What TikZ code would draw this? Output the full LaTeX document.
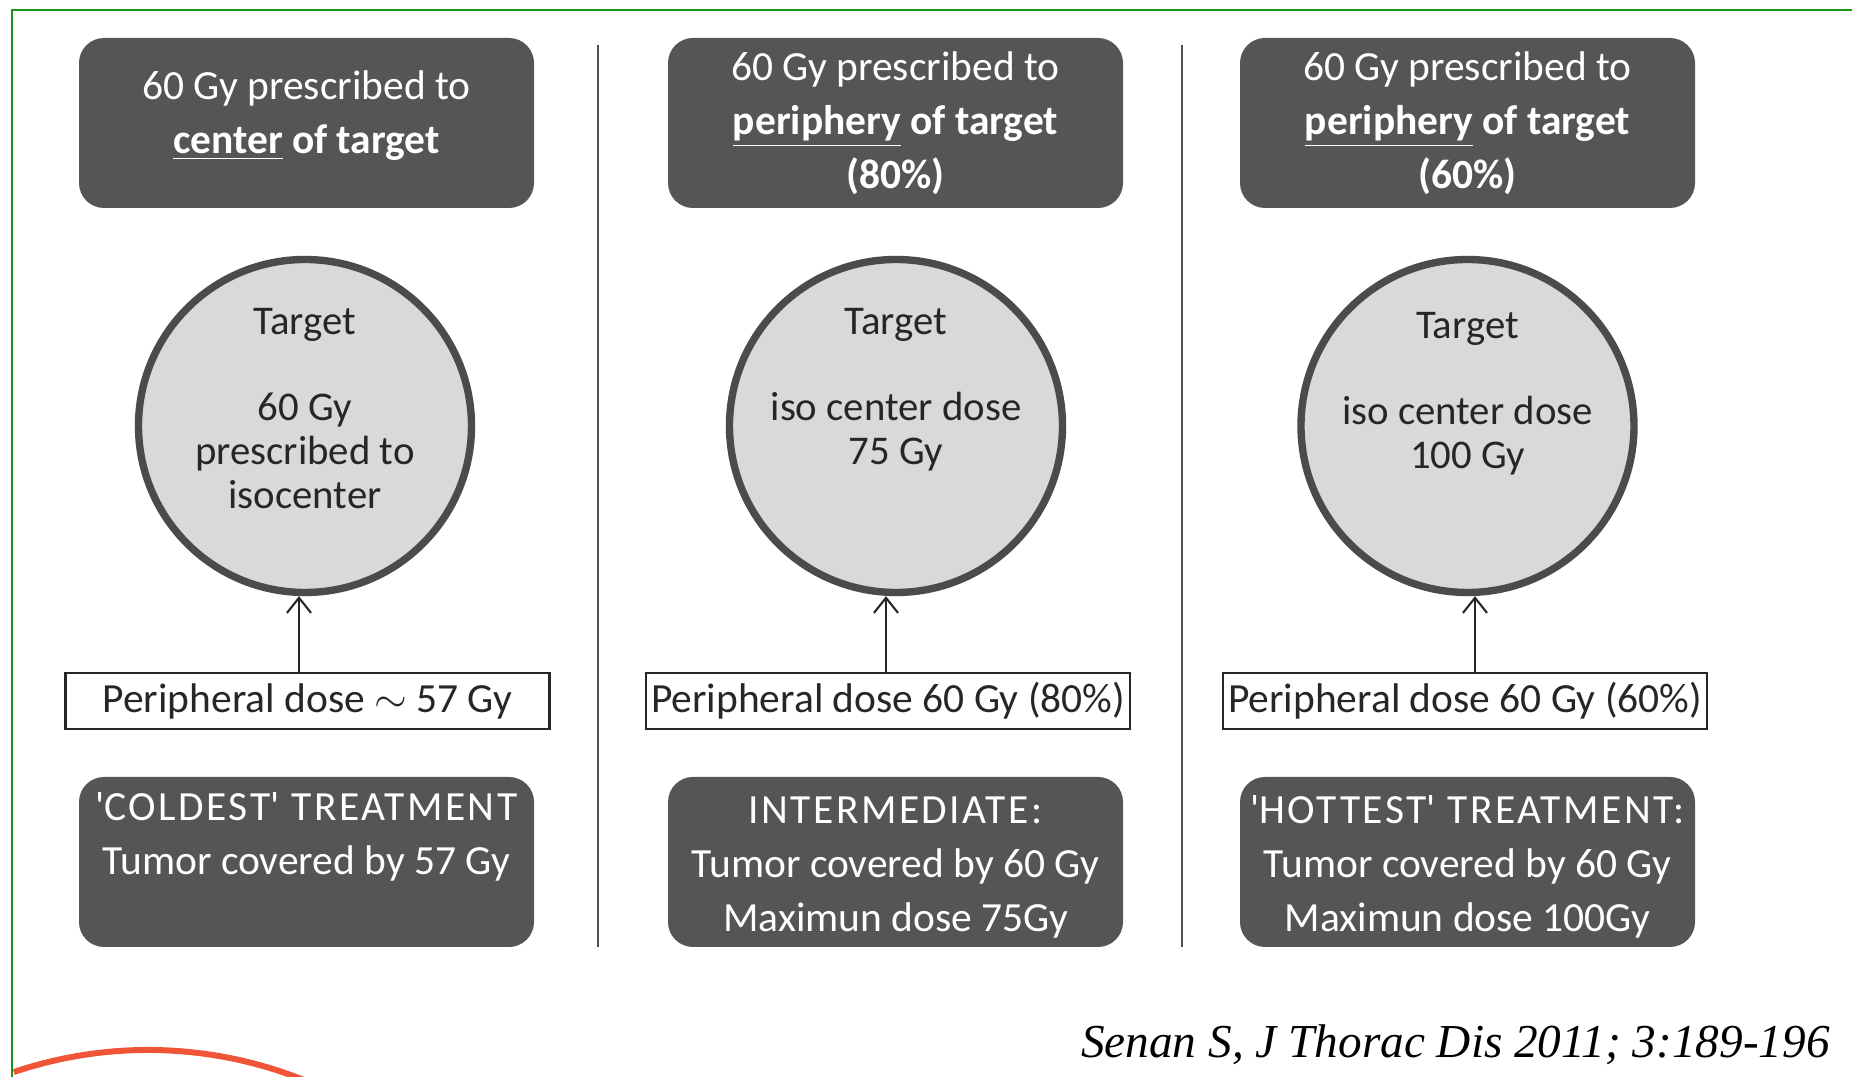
\documentclass[tikz,border=0pt]{standalone}
\usepackage{fontspec}
\setmainfont{Carlito}
\newfontfamily\refFont{Liberation Serif}
\usepackage{tikz}
\usetikzlibrary{arrows.meta, positioning}

\definecolor{boxgray}{RGB}{85,85,85}
\definecolor{targetgray}{RGB}{217,217,217}
\definecolor{rimgray}{RGB}{75,75,75}
\definecolor{sepgray}{RGB}{80,80,80}
\definecolor{framegreen}{RGB}{25,150,25}
\definecolor{logored}{RGB}{240,85,55}

\newcommand{\wide}[1]{{\addfontfeature{LetterSpace=6}#1}}

\tikzset{darkbox/.style={
		fill=boxgray, rounded corners=0.25cm, text=white,
		minimum width=4.55cm, minimum height=1.70cm, align=center, inner sep=0pt,
		font=\fontsize{11.8}{15.4}\selectfont
	},
	target/.style={circle, draw=rimgray, line width=2.1pt, fill=targetgray,
		minimum size=3.33cm, inner sep=0pt},
	targettext/.style={align=center, inner sep=0pt, text=black!85,
		font=\fontsize{11.6}{12.5}\selectfont},
	dosebox/.style={draw=black!85, line width=0.6pt, minimum width=4.84cm,
		minimum height=0.56cm, inner sep=0pt, text=black!85,
		font=\fontsize{11.8}{14}\selectfont},
	doseline/.style={-{Straight Barb[length=0.15cm,width=0.24cm]}, line width=0.6pt, black!85}
}

\begin{document}
\begin{tikzpicture}[thick]
\useasboundingbox (0,0) rectangle (18.52,10.77);

            \draw[framegreen, line width=0.6pt] (0.12,0) -- (0.12,10.67) -- (18.52,10.67);
            \draw[logored, line width=1.7pt] (0.137,0.049) arc[start angle=108.7, end angle=68, radius=4.19];

            \draw[sepgray, line width=0.6pt] (5.98,10.32) -- (5.98,1.30);
            \draw[sepgray, line width=0.6pt] (11.82,10.32) -- (11.82,1.30);

            % prescription boxes
            \node[darkbox] (top1) at (3.065,9.54) {60 Gy prescribed to\\\textbf{\underline{center} of target}\rule[-0.22cm]{0pt}{0.22cm}};
            \node[darkbox] (top2) at (8.955,9.54) {60 Gy prescribed to\\\textbf{\underline{periphery} of target}\\\textbf{(80\%)}};
            \node[darkbox] (top3) at (14.675,9.54) {60 Gy prescribed to\\\textbf{\underline{periphery} of target}\\\textbf{(60\%)}};

            % targets
            \node[target] (circ1) at (3.05,6.51) {};
            \node[target] (circ2) at (8.96,6.51) {};
            \node[target] (circ3) at (14.675,6.51) {};
            \node[targettext, below=0.51cm of circ1.north] (lbl1) {Target\\[12pt]60 Gy\\prescribed to\\isocenter};
            \node[targettext, below=0.51cm of circ2.north] (lbl2) {Target\\[12pt]iso center dose\\75 Gy};
            \node[targettext, below=0.55cm of circ3.north] (lbl3) {Target\\[12pt]iso center dose\\100 Gy};

            \node[dosebox] (peri1) at (3.075,3.76) {Peripheral dose $\sim$ 57 Gy};
            \node[dosebox] (peri2) at (8.88,3.76) {Peripheral dose 60 Gy (80\%)};
            \node[dosebox] (peri3) at (14.65,3.76) {Peripheral dose 60 Gy (60\%)};

            \draw[doseline] ([xshift=-0.085cm]peri1.north) -- ([xshift=-0.085cm]peri1.north |- circ1.south);
            \draw[doseline] ([xshift=-0.02cm]peri2.north) -- ([xshift=-0.02cm]peri2.north |- circ2.south);
            \draw[doseline] ([xshift=0.10cm]peri3.north) -- ([xshift=0.10cm]peri3.north |- circ3.south);

            % outcome boxes
            \node[darkbox] (res1) at (3.065,2.15) {\wide{\textquotesingle COLDEST\textquotesingle{} TREATMENT}\\Tumor covered by 57 Gy\\[-4pt]\strut};
            \node[darkbox] (res2) at (8.955,2.15) {\rule{0pt}{0.38cm}\wide{INTERMEDIATE:}\\Tumor covered by 60 Gy\\Maximun dose 75Gy};
            \node[darkbox] (res3) at (14.675,2.15) {\rule{0pt}{0.38cm}\wide{\textquotesingle HOTTEST\textquotesingle{} TREATMENT:}\\Tumor covered by 60 Gy\\Maximun dose 100Gy};

 \node[anchor=base east, font=\refFont\itshape\fontsize{13.45}{16}\selectfont] (src) at (18.43,0.19) {Senan S, J Thorac Dis 2011; 3:189-196};
\end{tikzpicture}
\end{document}
